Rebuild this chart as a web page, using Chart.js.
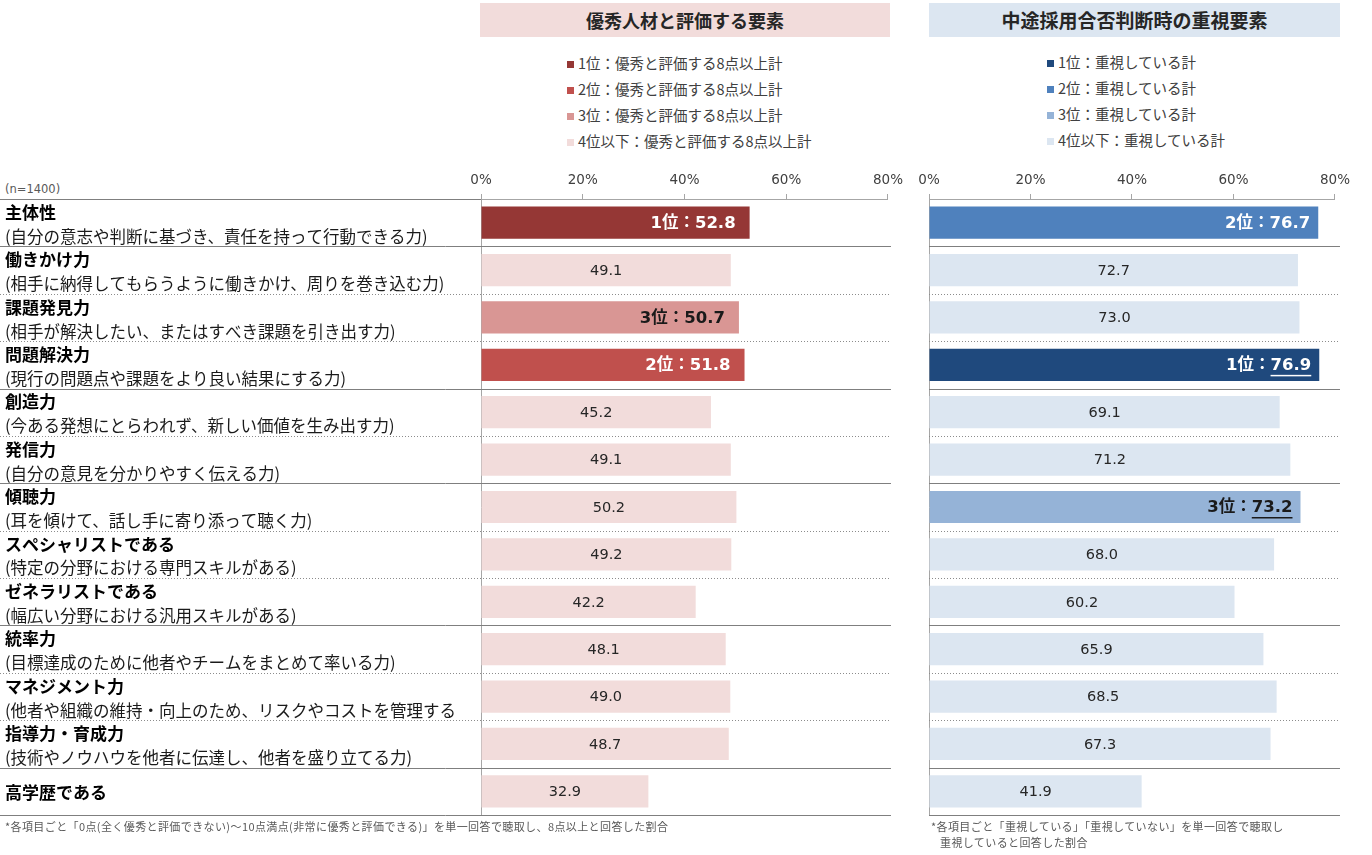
<!DOCTYPE html>
<html lang="ja">
<head>
<meta charset="utf-8">
<title>優秀人材と評価する要素 / 中途採用合否判断時の重視要素</title>
<script src="https://cdn.jsdelivr.net/npm/chart.js@4.4.1/dist/chart.umd.min.js"></script>
<style>
    html, body { margin: 0; padding: 0; background: #ffffff; }
    body {
        width: 1372px; height: 855px; position: relative; overflow: hidden;
        font-family: "Noto Sans CJK JP", sans-serif; color: #262626;
    }
    .panel-title {
        position: absolute; top: 3px; height: 34px; line-height: 34px;
        text-align: center; font-weight: 700; color: #262626;
    }
    .legend { position: absolute; font-size: 14.5px; color: #404040; }
    .legend div { height: 26px; line-height: 26px; white-space: nowrap; }
    .legend i { display: inline-block; width: 7px; height: 7px; margin-right: 4px; vertical-align: middle; position: relative; top: -1px; }
    canvas { position: absolute; }
    .note { position: absolute; font-size: 11px; color: #595959; white-space: nowrap; line-height: 16px; letter-spacing: 0.4px; }
    .sample { position: absolute; left: 5px; top: 182px; font: 11.5px "DejaVu Sans", sans-serif; color: #595959; }
</style>
</head>
<body>
<div class="panel-title" style="left:480px;width:410px;background:#f2dcdb;font-size:18px;">優秀人材と評価する要素</div>
<div class="panel-title" style="left:929px;width:411px;background:#dce6f1;font-size:19px;">中途採用合否判断時の重視要素</div>
<div class="legend" id="legendLeft" style="left:567px;top:50px;"></div>
<div class="legend" id="legendRight" style="left:1047px;top:49px;"></div>
<div class="sample">(n=1400)</div>
<canvas id="chartLeft" width="908" height="672" style="left:0;top:150px;width:908px;height:672px;"></canvas>
<canvas id="chartRight" width="445" height="672" style="left:910px;top:150px;width:445px;height:672px;"></canvas>
<div class="note" style="left:5px;top:818px;">*各項目ごと「0点(全く優秀と評価できない)～10点満点(非常に優秀と評価できる)」を単一回答で聴取し、8点以上と回答した割合</div>
<div class="note" style="left:931px;top:818px;">*各項目ごと「重視している」「重視していない」を単一回答で聴取し<br><span style="padding-left:9px;">重視していると回答した割合</span></div>
<script>
(() => {
    'use strict';

    const categoryTitles = [
        '主体性', '働きかけ力', '課題発見力', '問題解決力', '創造力', '発信力', '傾聴力',
        'スペシャリストである', 'ゼネラリストである', '統率力', 'マネジメント力', '指導力・育成力', '高学歴である',
    ];
    const categoryNotes = [
        '(自分の意志や判断に基づき、責任を持って行動できる力)',
        '(相手に納得してもらうように働きかけ、周りを巻き込む力)',
        '(相手が解決したい、またはすべき課題を引き出す力)',
        '(現行の問題点や課題をより良い結果にする力)',
        '(今ある発想にとらわれず、新しい価値を生み出す力)',
        '(自分の意見を分かりやすく伝える力)',
        '(耳を傾けて、話し手に寄り添って聴く力)',
        '(特定の分野における専門スキルがある)',
        '(幅広い分野における汎用スキルがある)',
        '(目標達成のために他者やチームをまとめて率いる力)',
        '(他者や組織の維持・向上のため、リスクやコストを管理する',
        '(技術やノウハウを他者に伝達し、他者を盛り立てる力)',
        '',
    ];

    // 優秀人材と評価する要素 (8点以上計, %)
    const talentValues = [52.8, 49.1, 50.7, 51.8, 45.2, 49.1, 50.2, 49.2, 42.2, 48.1, 49.0, 48.7, 32.9];
    const talentRanks = [1, 0, 3, 2, 0, 0, 0, 0, 0, 0, 0, 0, 0];

    // 中途採用合否判断時の重視要素 (重視している計, %)
    const hiringValues = [76.7, 72.7, 73.0, 76.9, 69.1, 71.2, 73.2, 68.0, 60.2, 65.9, 68.5, 67.3, 41.9];
    const hiringRanks = [2, 0, 0, 1, 0, 0, 3, 0, 0, 0, 0, 0, 0];

    const rankNames = ['4位以下', '1位', '2位', '3位'];
    const talentLegendText = '優秀と評価する8点以上計';
    const hiringLegendText = '重視している計';

    const axisTicks = [0, 20, 40, 60, 80];

    // rows after which a solid separator is drawn (others dotted)
    const groupEnds = [0, 3, 5, 8, 11, 12];

    const talentColors = ['#f2dcdb', '#953735', '#c0504d', '#d99694'];
    const hiringColors = ['#dce6f1', '#1f497d', '#4f81bd', '#95b3d7'];
    const rankTextColors = ['#262626', '#ffffff', '#ffffff', '#1a1a1a'];

    const rowDecor = {
        id: 'rowDecor',
        beforeDatasetsDraw(chart, args, opts) {
            const { ctx, chartArea } = chart;
            const yScale = chart.scales.y;
            const step = yScale.getPixelForValue(1) - yScale.getPixelForValue(0);
            const x0 = opts.lineStart;
            const x1 = chartArea.right + opts.overhang;

            ctx.save();
            ctx.lineWidth = 1;

            if (x0 < chartArea.left) {
                const yTop = Math.round(chartArea.top) + 0.5;
                ctx.strokeStyle = '#7f7f7f';
                ctx.beginPath();
                ctx.moveTo(x0, yTop);
                ctx.lineTo(chartArea.left, yTop);
                ctx.stroke();
            }

            categoryTitles.forEach((_, index) => {
                const y = Math.round(yScale.getPixelForValue(index) + step / 2) + 0.5;
                const solid = groupEnds.includes(index);
                ctx.setLineDash(solid ? [] : [1, 2]);
                ctx.strokeStyle = solid ? '#7f7f7f' : '#8c8c8c';
                ctx.beginPath();
                ctx.moveTo(x0, y);
                ctx.lineTo(x1, y);
                ctx.stroke();
            });
            ctx.restore();

            if (!opts.drawCategories) {
                return;
            }

            ctx.save();
            ctx.textAlign = 'left';
            ctx.textBaseline = 'middle';
            categoryTitles.forEach((title, index) => {
                const center = yScale.getPixelForValue(index);
                const top = center - step / 2;
                const note = categoryNotes[index];

                ctx.fillStyle = '#000000';
                ctx.font = 'bold 17px "Noto Sans CJK JP", sans-serif';
                ctx.fillText(title, 5, note ? top + 13.5 : center + 1);

                if (note) {
                    ctx.fillStyle = '#1a1a1a';
                    ctx.font = '16.5px "Noto Sans CJK JP", sans-serif';
                    ctx.fillText(note, 5, top + 37.5);
                }
            });
            ctx.restore();
        },
    };

    const valueLabels = {
        id: 'valueLabels',
        afterDatasetsDraw(chart, args, opts) {
            const ctx = chart.ctx;
            const values = chart.data.datasets[0].data;

            chart.getDatasetMeta(0).data.forEach((bar, index) => {
                const rank = opts.ranks[index];
                const value = values[index].toFixed(1);

                ctx.save();
                ctx.textBaseline = 'middle';

                if (!rank) {
                    ctx.font = '14.5px "DejaVu Sans", sans-serif';
                    ctx.fillStyle = '#262626';
                    ctx.textAlign = 'center';
                    ctx.fillText(value, (bar.x + bar.base) / 2, bar.y + 1);
                    ctx.restore();
                    return;
                }

                const prefix = `${rankNames[rank]}：`;
                ctx.font = 'bold 16.5px "DejaVu Sans", "Noto Sans CJK JP", sans-serif';
                ctx.fillStyle = rankTextColors[rank];
                ctx.textAlign = 'left';

                const valueWidth = ctx.measureText(value).width;
                const prefixWidth = ctx.measureText(prefix).width;
                const right = bar.x - opts.inset;
                const valueX = right - valueWidth;

                ctx.fillText(prefix, valueX - prefixWidth, bar.y + 1);
                ctx.fillText(value, valueX, bar.y + 1);

                if (opts.underline.includes(rank)) {
                    ctx.fillRect(valueX, bar.y + 10, valueWidth, 1.5);
                }
                ctx.restore();
            });
        },
    };

    const buildLegend = (id, colors, text) => {
        const root = document.getElementById(id);
        [1, 2, 3, 0].forEach((rank) => {
            const row = document.createElement('div');
            const swatch = document.createElement('i');
            swatch.style.background = colors[rank];
            row.appendChild(swatch);
            row.appendChild(document.createTextNode(`${rankNames[rank]}：${text}`));
            root.appendChild(row);
        });
    };

    const makePanel = (canvasId, values, ranks, colors, settings) => new Chart(document.getElementById(canvasId), {
        type: 'bar',
        data: {
            labels: categoryTitles,
            datasets: [{
                data: values,
                backgroundColor: ranks.map((rank) => colors[rank]),
                borderWidth: 0,
                categoryPercentage: 1,
                barPercentage: 0.68,
            }],
        },
        plugins: [rowDecor, valueLabels],
        options: {
            indexAxis: 'y',
            responsive: false,
            animation: false,
            layout: {
                padding: { left: settings.padLeft, right: settings.padRight, top: 0, bottom: 7 },
            },
            scales: {
                x: {
                    position: 'top',
                    min: axisTicks[0],
                    max: axisTicks[axisTicks.length - 1],
                    afterBuildTicks: (scale) => {
                        scale.ticks = axisTicks.map((value) => ({ value }));
                    },
                    afterFit: (scale) => {
                        scale.height = 49;
                    },
                    ticks: {
                        callback: (value) => `${value}%`,
                        color: '#404040',
                        padding: 5,
                        maxRotation: 0,
                        font: { family: '"DejaVu Sans", sans-serif', size: 13.5 },
                    },
                    grid: {
                        drawOnChartArea: false,
                        tickLength: 5,
                        tickColor: '#a6a6a6',
                    },
                    border: { color: '#a6a6a6' },
                },
                y: {
                    ticks: { display: false },
                    grid: { drawOnChartArea: false, drawTicks: false },
                    border: { color: '#a6a6a6' },
                    afterFit: (scale) => {
                        scale.width = 0;
                    },
                },
            },
            plugins: {
                legend: { display: false },
                tooltip: { enabled: false },
                rowDecor: {
                    lineStart: settings.lineStart,
                    overhang: settings.overhang,
                    drawCategories: settings.drawCategories,
                },
                valueLabels: {
                    ranks,
                    inset: settings.inset,
                    underline: settings.underline,
                },
            },
        },
    });

    buildLegend('legendLeft', talentColors, talentLegendText);
    buildLegend('legendRight', hiringColors, hiringLegendText);

    makePanel('chartLeft', talentValues, talentRanks, talentColors, {
        padLeft: 481, padRight: 12, lineStart: 0, overhang: 3,
        drawCategories: true, inset: 14, underline: [],
    });
    makePanel('chartRight', hiringValues, hiringRanks, hiringColors, {
        padLeft: 19, padRight: 15, lineStart: 19, overhang: 5,
        drawCategories: false, inset: 8, underline: [1, 3],
    });
})();
</script>
</body>
</html>
